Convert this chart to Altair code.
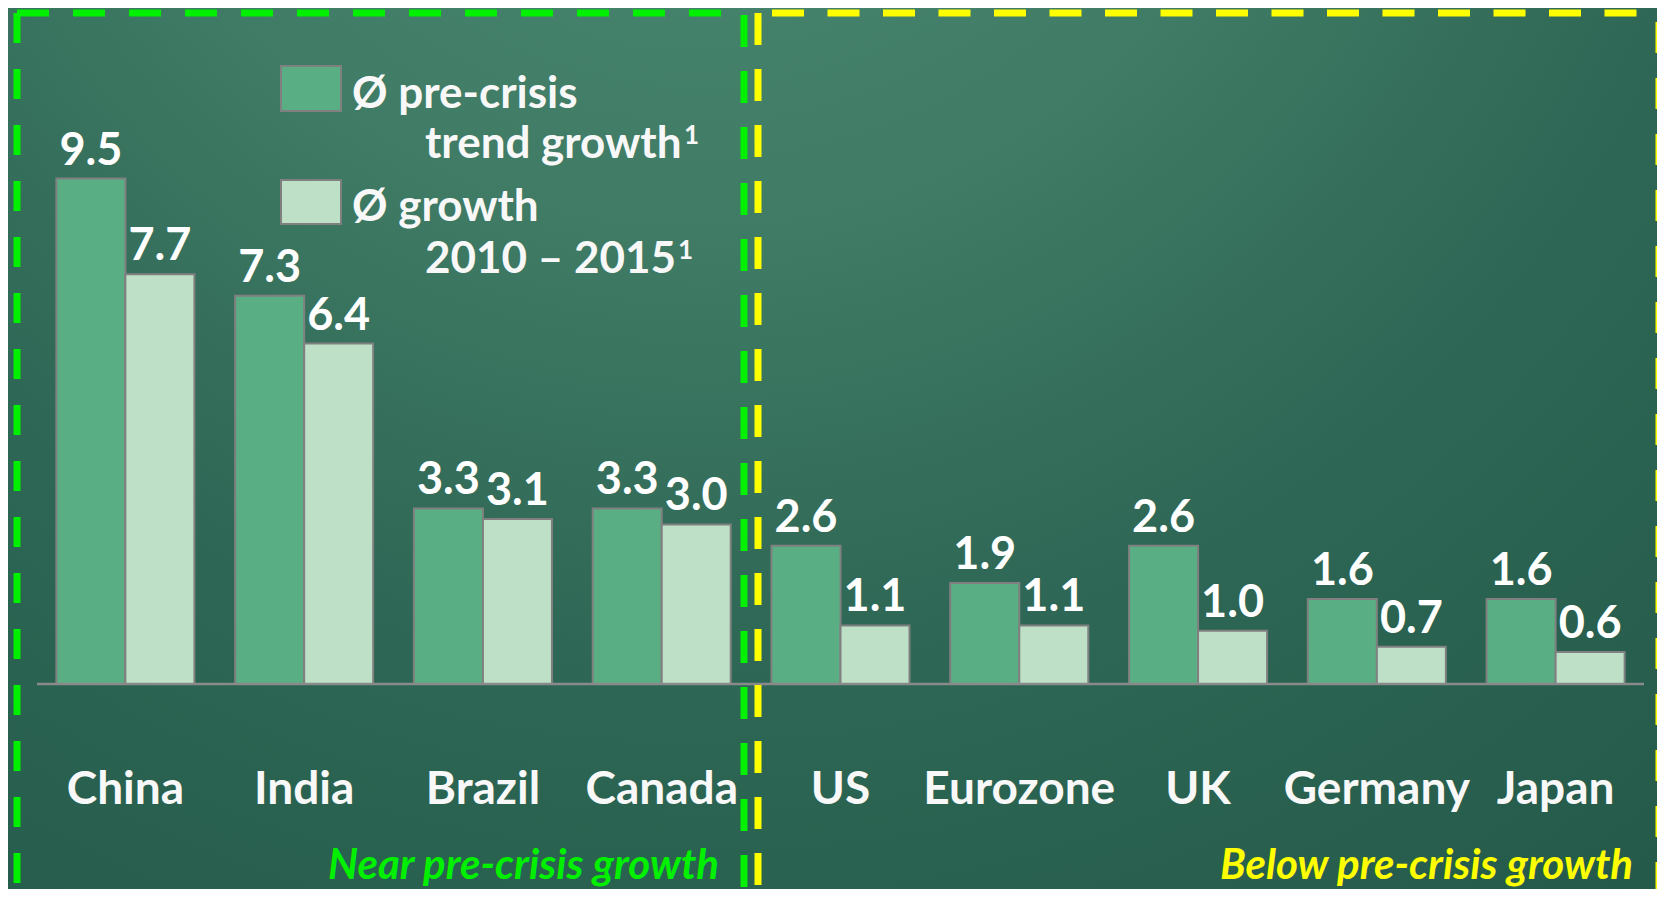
import altair as alt
import pandas as pd

countries = ["China", "India", "Brazil", "Canada", "US", "Eurozone", "UK", "Germany", "Japan"]
pre_crisis = [9.5, 7.3, 3.3, 3.3, 2.6, 1.9, 2.6, 1.6, 1.6]
growth_2010_2015 = [7.7, 6.4, 3.1, 3.0, 1.1, 1.1, 1.0, 0.7, 0.6]
series_names = ["pre-crisis trend growth", "growth 2010-2015"]
series_colors = ["#5aae84", "#bde0c7"]
legend_line1 = ["Ø pre-crisis", "Ø growth"]
legend_line2 = ["trend growth", "2010 – 2015"]
footnote_mark = "1"
group_labels = ["Near pre-crisis growth", "Below pre-crisis growth"]
group_colors = ["#00f000", "#ffff00"]

FONT = "Lato"

rows = []
for c, a, b in zip(countries, pre_crisis, growth_2010_2015):
    rows.append({"country": c, "series": series_names[0], "value": a})
    rows.append({"country": c, "series": series_names[1], "value": b})
df = pd.DataFrame(rows)
cat_df = pd.DataFrame({"country": countries})
one = pd.DataFrame({"a": [0]})

xscale = alt.Scale(domain=countries, paddingInner=0.228, paddingOuter=0.114)
yscale = alt.Scale(domain=[-3.853, 12.707], nice=False, zero=False)
X = alt.X("country:N", scale=xscale, axis=None)
XO = alt.XOffset("series:N", scale=alt.Scale(domain=series_names, paddingInner=0, paddingOuter=0))
Y = alt.Y("value:Q", scale=yscale, axis=None, stack=None)
color = alt.Color("series:N", scale=alt.Scale(domain=series_names, range=series_colors), legend=None)

W, H = 1609, 881
PL = 28  # left padding: plot origin at page x = 36

bg = alt.Chart(one).mark_rect(
    fill={
        "gradient": "radial",
        "x1": 0.42, "y1": 0.0, "r1": 0.0,
        "x2": 0.42, "y2": 0.0, "r2": 1.05,
        "stops": [
            {"offset": 0.0, "color": "#4e8c74"},
            {"offset": 0.35, "color": "#3f7b65"},
            {"offset": 0.6, "color": "#2e6755"},
            {"offset": 1.0, "color": "#215646"},
        ],
    }
).encode(x=alt.value(-PL), x2=alt.value(W + 12), y=alt.value(0), y2=alt.value(H))

bars = alt.Chart(df).mark_bar(stroke="#808080", strokeWidth=2).encode(
    x=X, xOffset=XO, y=Y, color=color
)

vlabels = alt.Chart(df).mark_text(
    font=FONT, fontWeight="bold", fontSize=45, color="#ffffff",
    baseline="alphabetic", align="center", dy=-14
).encode(x=X, xOffset=XO, y=Y, text=alt.Text("value:Q", format=".1f"))

base_df = pd.DataFrame({"v": [0.0]})
baseline = alt.Chart(base_df).mark_rule(color="#8a8a8a", strokeWidth=2.5).encode(
    x=alt.value(1), x2=alt.value(1608), y=alt.Y("v:Q", scale=yscale, axis=None)
)

clabels = alt.Chart(cat_df).mark_text(
    font=FONT, fontWeight="bold", fontSize=46, color="#f8f8f8",
    baseline="alphabetic", align="center"
).encode(x=X, y=alt.value(796), text="country:N")

# legend (drawn manually)
leg_layers = []
sq_y = [(58, 103), (172, 216)]
l1_y = [100, 213]
l2_y = [150, 265]
sup_x = [648, 642]
for i in range(2):
    leg_layers.append(
        alt.Chart(one).mark_rect(fill=series_colors[i], stroke="#808080", strokeWidth=2).encode(
            x=alt.value(245), x2=alt.value(305), y=alt.value(sq_y[i][0]), y2=alt.value(sq_y[i][1])
        )
    )
    leg_layers.append(
        alt.Chart(one).mark_text(
            font=FONT, fontWeight="bold", fontSize=44, color="#f8f8f8",
            align="left", baseline="alphabetic", text=legend_line1[i]
        ).encode(x=alt.value(316), y=alt.value(l1_y[i]))
    )
    leg_layers.append(
        alt.Chart(one).mark_text(
            font=FONT, fontWeight="bold", fontSize=44, color="#f8f8f8",
            align="left", baseline="alphabetic", text=legend_line2[i]
        ).encode(x=alt.value(389), y=alt.value(l2_y[i]))
    )
    leg_layers.append(
        alt.Chart(one).mark_text(
            font=FONT, fontWeight="bold", fontSize=26, color="#f8f8f8",
            align="left", baseline="alphabetic", text=footnote_mark
        ).encode(x=alt.value(sup_x[i]), y=alt.value(l2_y[i] - 14))
    )

# dashed frames (page coords minus offsets: x-36, y-8)
def hrule(x1, x2, y, col, dash):
    return alt.Chart(one).mark_rule(color=col, strokeWidth=7, strokeDash=dash, strokeCap="butt").encode(
        x=alt.value(x1 - 36), x2=alt.value(x2 - 36), y=alt.value(y - 8)
    )

def vrule(x, y1, y2, col, dash):
    return alt.Chart(one).mark_rule(color=col, strokeWidth=7, strokeDash=dash, strokeCap="butt").encode(
        x=alt.value(x - 36), y=alt.value(y1 - 8), y2=alt.value(y2 - 8)
    )

frames = [
    hrule(17, 722, 13, group_colors[0], [32, 24]),
    vrule(17, 13, 900, group_colors[0], [30, 26]),
    vrule(744, 15, 900, group_colors[0], [32, 24]),
    hrule(772, 1645, 13, group_colors[1], [32, 23.5]),
    vrule(758, 13, 900, group_colors[1], [32, 24]),
    vrule(1659, 22, 900, group_colors[1], [31, 25]),
]

glabels = [
    alt.Chart(one).mark_text(
        font=FONT, fontWeight="bold", fontStyle="italic", fontSize=42, color=group_colors[0],
        align="right", baseline="alphabetic", text=group_labels[0]
    ).encode(x=alt.value(719 - 36), y=alt.value(879 - 8)),
    alt.Chart(one).mark_text(
        font=FONT, fontWeight="bold", fontStyle="italic", fontSize=42, color=group_colors[1],
        align="right", baseline="alphabetic", text=group_labels[1]
    ).encode(x=alt.value(1633 - 36), y=alt.value(879 - 8)),
]

chart = alt.layer(bg, bars, baseline, vlabels, clabels, *leg_layers, *frames, *glabels).properties(
    width=W, height=H,
    padding={"left": PL, "top": 0, "right": 12, "bottom": 0},
    autosize=alt.AutoSizeParams(type="none"),
    background="#245948",
).configure_view(stroke=None, clip=False)

chart.save("out.html", embed_options={"renderer": "svg", "actions": False})
